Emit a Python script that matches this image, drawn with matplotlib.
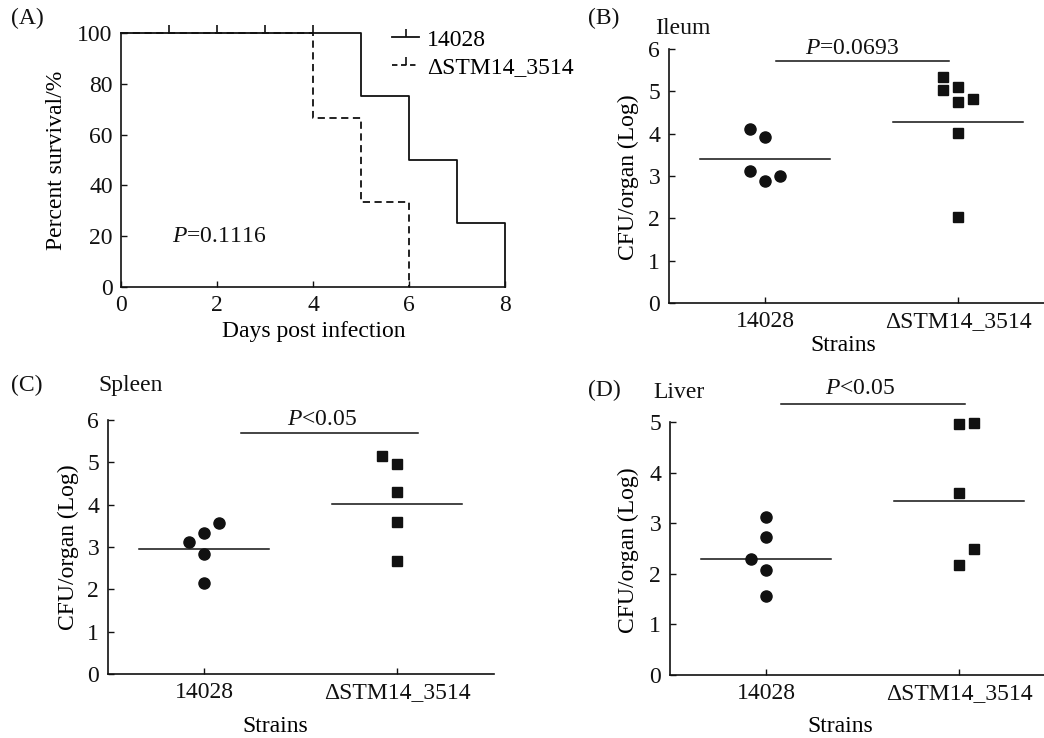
import matplotlib
matplotlib.use("Agg")
import matplotlib.pyplot as plt
from matplotlib.lines import Line2D

plt.rcParams['font.family'] = ['Liberation Serif', 'DejaVu Serif']
plt.rcParams['mathtext.fontset'] = 'custom'
plt.rcParams['mathtext.rm'] = 'Liberation Serif'
plt.rcParams['mathtext.it'] = 'Liberation Serif:italic'

# ---------------- data ----------------
# Panel A: survival curves
days_wt = [0, 5, 6, 7, 8]
surv_wt = [100, 75, 50, 25, 0]
days_mut = [0, 4, 5, 6]
surv_mut = [100, 66.7, 33.3, 0]
censor_days = [1, 2, 3, 4]
censor_surv = [100, 100, 100, 100]
p_surv = "0.1116"

strains = ["14028", "\u0394STM14_3514"]

# Panel B: ileum
ileum_wt = [4.12, 3.93, 3.11, 2.89, 3.01]
ileum_mut = [5.35, 5.02, 5.10, 4.75, 4.81, 4.02, 2.02]
ileum_means = [3.40, 4.27]
# Panel C: spleen
spleen_wt = [3.11, 3.33, 3.56, 2.83, 2.15]
spleen_mut = [5.16, 4.96, 4.31, 3.59, 2.66]
spleen_means = [2.96, 4.02]
# Panel D: liver
liver_wt = [3.13, 2.73, 2.30, 2.07, 1.56]
liver_mut = [4.96, 4.99, 3.60, 2.49, 2.17]
liver_means = [2.30, 3.44]

# horizontal offsets of points (layout only)
off_ileum_wt = [-0.08, 0, -0.08, 0, 0.08]
off_ileum_mut = [-0.08, -0.08, 0, 0, 0.08, 0, 0]
off_spleen_wt = [-0.08, 0, 0.08, 0, 0]
off_spleen_mut = [-0.08, 0, 0, 0, 0]
off_liver_wt = [0, 0, -0.08, 0, 0]
off_liver_mut = [0, 0.08, 0, 0.08, 0]

W, H = 1044, 738
fig = plt.figure(figsize=(W / 100, H / 100), dpi=100)
FS = 17
INK = '#111111'


def add_ax(left, top, right, bottom):
    return fig.add_axes([left / W, 1 - bottom / H, (right - left) / W, (bottom - top) / H])


def ftext(x, y, s, **kw):
    fig.text(x / W, 1 - y / H, s, fontsize=FS, color=INK, **kw)


def style(ax):
    for s in ['top', 'right']:
        ax.spines[s].set_visible(False)
    for s in ['left', 'bottom']:
        ax.spines[s].set_linewidth(1.2)
        ax.spines[s].set_color(INK)
    ax.tick_params(direction='in', length=4, width=1.0, labelsize=FS, pad=6, colors=INK)


def set_labels(ax, xl, xpos, yl, ypos):
    ax.set_xlabel(xl, fontsize=FS, va='center', ha='center')
    ax.xaxis.set_label_coords(xpos[0] / W, 1 - xpos[1] / H, transform=fig.transFigure)
    ax.set_ylabel(yl, fontsize=FS, va='center', ha='center')
    ax.yaxis.set_label_coords(ypos[0] / W, 1 - ypos[1] / H, transform=fig.transFigure)


# ---------------- Panel A ----------------
axA = add_ax(121, 33, 505, 287)
style(axA)
axA.step(days_wt, surv_wt, where='post', color=INK, lw=1.3, clip_on=False)
axA.step(days_mut, surv_mut, where='post', color=INK, lw=1.3, ls=(0, (4, 2.5)), clip_on=False)
axA.plot(censor_days, censor_surv, ls='none', marker=2, ms=6, mew=1.2, color=INK, clip_on=False)
axA.set_xlim(0, 8)
axA.set_ylim(0, 100)
axA.set_xticks([0, 2, 4, 6, 8])
axA.set_yticks([0, 20, 40, 60, 80, 100])
set_labels(axA, "Days post infection", (314, 331), "Percent survival/%", (57, 160))
axA.text(1.06, 19.7, r"$P$=" + p_surv, fontsize=FS, ha='left', va='center', color=INK)
handles = [Line2D([0], [0], color=INK, lw=1.3, marker=2, ms=6, mew=1.2),
           Line2D([0], [0], color=INK, lw=1.3, ls=(0, (3, 2)), marker=2, ms=6, mew=1.2)]
axA.legend(handles, strains, loc='upper left', bbox_to_anchor=(392 / W, 1 - 29 / H),
           bbox_transform=fig.transFigure, frameon=False, fontsize=FS, handlelength=1.15,
           handletextpad=0.32, labelspacing=0.27, borderpad=0, borderaxespad=0, numpoints=1)
ftext(27, 18, "(A)", ha='center', va='center')


def scatter_panel(ax, wt, mut, off_wt, off_mut, means, ylim, yticks, bar, ptext, ptxt_pos):
    style(ax)
    xw = [1 + o for o in off_wt]
    xm = [2 + o for o in off_mut]
    ax.plot(xw, wt, ls='none', marker='o', ms=8, color=INK, clip_on=False)
    ax.plot(xm, mut, ls='none', marker='s', ms=7.6, color=INK, clip_on=False)
    for i, m in enumerate(means):
        ax.plot([i + 1 - 0.335, i + 1 + 0.335], [m, m], color=INK, lw=1.1)
    ax.plot([bar[0], bar[1]], [bar[2], bar[2]], color=INK, lw=1.1, clip_on=False)
    ax.text(ptxt_pos[0], ptxt_pos[1], ptext, fontsize=FS, ha='center', va='center', color=INK)
    ax.set_xlim(0.5, 2.5)
    ax.set_ylim(*ylim)
    ax.set_yticks(yticks)
    ax.set_xticks([1, 2])
    ax.set_xticklabels(strains)


# ---------------- Panel B ----------------
axB = add_ax(668.5, 49, 1054.5, 303)
scatter_panel(axB, ileum_wt, ileum_mut, off_ileum_wt, off_ileum_mut, ileum_means,
              (0, 6), range(0, 7), (1.057, 1.953, 5.72), r"$P$=0.0693", (1.45, 6.02))
set_labels(axB, "Strains", (843, 345), "CFU/organ (Log)", (628, 177))
ftext(604, 18, "(B)", ha='center', va='center')
ftext(655, 28, "Ileum", ha='left', va='center')

# ---------------- Panel C ----------------
axC = add_ax(107.5, 420, 493.5, 674)
scatter_panel(axC, spleen_wt, spleen_mut, off_spleen_wt, off_spleen_mut, spleen_means,
              (0, 6), range(0, 7), (1.19, 2.11, 5.70), r"$P$<0.05", (1.61, 6.02))
set_labels(axC, "Strains", (275, 727), "CFU/organ (Log)", (68, 547))
ftext(27, 385, "(C)", ha='center', va='center')
ftext(98, 385, "Spleen", ha='left', va='center')

# ---------------- Panel D ----------------
axD = add_ax(669.5, 422, 1055.5, 675)
scatter_panel(axD, liver_wt, liver_mut, off_liver_wt, off_liver_mut, liver_means,
              (0, 5), range(0, 6), (1.08, 2.03, 5.36), r"$P$<0.05", (1.49, 5.67))
set_labels(axD, "Strains", (840, 727), "CFU/organ (Log)", (628, 550))
ftext(604, 390, "(D)", ha='center', va='center')
ftext(653, 392, "Liver", ha='left', va='center')

fig.savefig("out.png", dpi=100)
